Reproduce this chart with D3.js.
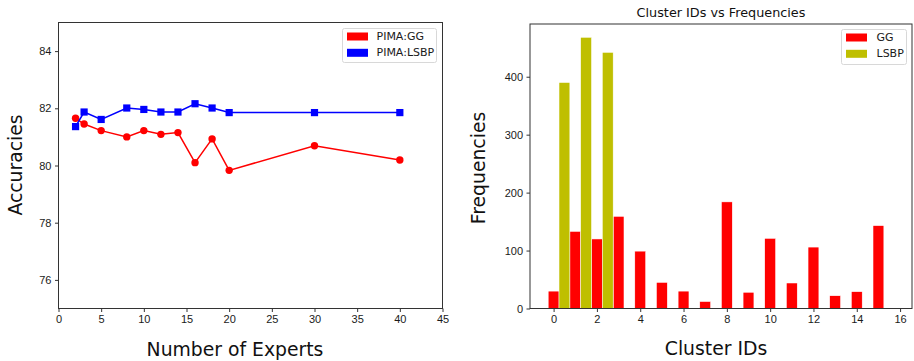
<!DOCTYPE html>
<html lang="en">
<head>
    <meta charset="UTF-8">
    <title>Experts and clusters</title>
    <style>
        body { margin: 0; background: #fff; }
        svg { display: block; font-family: "DejaVu Sans", sans-serif; }
        .axis path, .axis line { stroke: #333; }
        .axis text { fill: #1a1a1a; font-size: 11px; }
    </style>
</head>
<body>
    <div id="chart"></div>

    <script src="https://d3js.org/d3.v7.min.js"></script>
    <script>
        // left panel: accuracy against number of experts
        const experts = [2, 3, 5, 8, 10, 12, 14, 16, 18, 20, 30, 40]
        const accGG = [81.65, 81.45, 81.22, 81.0, 81.22, 81.09, 81.15, 80.1, 80.93, 79.83, 80.69, 80.19]
        const accLSBP = [81.36, 81.87, 81.61, 82.01, 81.96, 81.87, 81.87, 82.16, 82.01, 81.85, 81.85, 81.85]
        const accXTicks = [0, 5, 10, 15, 20, 25, 30, 35, 40, 45]
        const accYTicks = [76, 78, 80, 82, 84]

        // right panel: cluster id frequencies
        const clusterIds = [0, 1, 2, 3, 4, 5, 6, 7, 8, 9, 10, 11, 12, 13, 14, 15]
        const freqGG = [30, 133, 120, 159, 99, 45, 30, 12, 184, 28, 121, 44, 106, 22, 29, 143]
        const lsbpIds = [0, 1, 2]
        const freqLSBP = [390, 468, 442]
        const freqXTicks = [0, 2, 4, 6, 8, 10, 12, 14, 16]
        const freqYTicks = [0, 100, 200, 300, 400]

        const width = 914
        const height = 361
        const red = '#ff0000'
        const blue = '#0000ff'
        const olive = '#bfbf00'

        const svg = d3.select('#chart')
            .append('svg')
            .attr('width', width)
            .attr('height', height)

        drawAccuracy()
        drawFrequency()

        function frame(g, x0, x1, y0, y1) {
            g.append('rect')
                .attr('x', x0).attr('y', y0)
                .attr('width', x1 - x0).attr('height', y1 - y0)
                .attr('fill', 'none')
                .attr('stroke', '#333')
                .attr('stroke-width', 1)
        }

        function legend(g, x, y, w, h, items, textX) {
            g.append('rect')
                .attr('x', x).attr('y', y)
                .attr('width', w).attr('height', h)
                .attr('rx', 2)
                .attr('fill', '#fff')
                .attr('stroke', '#d8d8d8')
            items.forEach((d, i) => {
                const cy = y + 8 + i * 16.3
                g.append('rect')
                    .attr('x', x + 4.5).attr('y', cy - 4)
                    .attr('width', 21).attr('height', 8)
                    .attr('fill', d.color)
                g.append('text')
                    .attr('x', x + textX).attr('y', cy)
                    .attr('dominant-baseline', 'central')
                    .attr('fill', '#1a1a1a')
                    .style('font-size', '11px')
                    .text(d.label)
            })
        }

        function drawAccuracy() {
            const x = d3.scaleLinear().domain([0, 45]).range([58.5, 442.5])
            const y = d3.scaleLinear().domain([75, 85]).range([308.5, 22.5])
            const g = svg.append('g')

            g.append('g')
                .attr('class', 'axis')
                .attr('transform', `translate(0, ${y.range()[0]})`)
                .call(d3.axisBottom(x).tickValues(accXTicks).tickSize(3.5).tickPadding(3.5))
                .call(a => a.select('.domain').remove())
            g.append('g')
                .attr('class', 'axis')
                .attr('transform', `translate(${x.range()[0]}, 0)`)
                .call(d3.axisLeft(y).tickValues(accYTicks).tickSize(3.5).tickPadding(3.5))
                .call(a => a.select('.domain').remove())
            frame(g, x.range()[0], x.range()[1], y.range()[1], y.range()[0])

            const series = [
                { values: accGG, color: red, shape: 'circle' },
                { values: accLSBP, color: blue, shape: 'square' }
            ]
            series.forEach(s => {
                const pts = experts.map((e, i) => [x(e), y(s.values[i])])
                g.append('path')
                    .attr('d', d3.line()(pts))
                    .attr('fill', 'none')
                    .attr('stroke', s.color)
                    .attr('stroke-width', 1.5)
                if (s.shape === 'circle') {
                    g.selectAll(null).data(pts).enter().append('circle')
                        .attr('cx', d => d[0]).attr('cy', d => d[1])
                        .attr('r', 3.7).attr('fill', s.color)
                } else {
                    g.selectAll(null).data(pts).enter().append('rect')
                        .attr('x', d => d[0] - 3.6).attr('y', d => d[1] - 3.6)
                        .attr('width', 7.2).attr('height', 7.2)
                        .attr('fill', s.color)
                }
            })

            legend(g, 342.5, 28.5, 94, 34, [
                { label: 'PIMA:GG', color: red },
                { label: 'PIMA:LSBP', color: blue }
            ], 34)

            g.append('text')
                .attr('transform', 'translate(22, 165) rotate(-90)')
                .attr('text-anchor', 'middle')
                .attr('fill', '#111')
                .style('font-size', '18.8px')
                .text('Accuracies')
            g.append('text')
                .attr('x', 235).attr('y', 356)
                .attr('text-anchor', 'middle')
                .attr('fill', '#111')
                .style('font-size', '18.8px')
                .text('Number of Experts')
        }

        function drawFrequency() {
            const x = d3.scaleLinear().domain([-1.09, 16.55]).range([530, 912])
            const y = d3.scaleLinear().domain([0, 491]).range([308.5, 24])
            const g = svg.append('g')

            g.selectAll(null).data(clusterIds).enter().append('rect')
                .attr('x', d => x(d - 0.25))
                .attr('y', (d, i) => y(freqGG[i]))
                .attr('width', x(0.5) - x(0))
                .attr('height', (d, i) => y(0) - y(freqGG[i]))
                .attr('fill', red)
                .attr('stroke', '#fff')
                .attr('stroke-width', 0.5)
            g.selectAll(null).data(lsbpIds).enter().append('rect')
                .attr('x', d => x(d + 0.25))
                .attr('y', (d, i) => y(freqLSBP[i]))
                .attr('width', x(0.5) - x(0))
                .attr('height', (d, i) => y(0) - y(freqLSBP[i]))
                .attr('fill', olive)
                .attr('stroke', '#fff')
                .attr('stroke-width', 0.5)

            g.append('g')
                .attr('class', 'axis')
                .attr('transform', `translate(0, ${y.range()[0]})`)
                .call(d3.axisBottom(x).tickValues(freqXTicks).tickSize(3.5).tickPadding(3.5))
                .call(a => a.select('.domain').remove())
            g.append('g')
                .attr('class', 'axis')
                .attr('transform', `translate(${x.range()[0]}, 0)`)
                .call(d3.axisLeft(y).tickValues(freqYTicks).tickSize(3.5).tickPadding(3.5))
                .call(a => a.select('.domain').remove())
            frame(g, x.range()[0], x.range()[1], y.range()[1], y.range()[0])

            legend(g, 841.5, 29.5, 65, 35, [
                { label: 'GG', color: red },
                { label: 'LSBP', color: olive }
            ], 35)

            g.append('text')
                .attr('x', 721).attr('y', 17)
                .attr('text-anchor', 'middle')
                .attr('fill', '#111')
                .style('font-size', '12.8px')
                .text('Cluster IDs vs Frequencies')
            g.append('text')
                .attr('transform', 'translate(485, 168) rotate(-90)')
                .attr('text-anchor', 'middle')
                .attr('fill', '#111')
                .style('font-size', '18.8px')
                .text('Frequencies')
            g.append('text')
                .attr('x', 716).attr('y', 355)
                .attr('text-anchor', 'middle')
                .attr('fill', '#111')
                .style('font-size', '18.8px')
                .text('Cluster IDs')
        }
    </script>
</body>
</html>
